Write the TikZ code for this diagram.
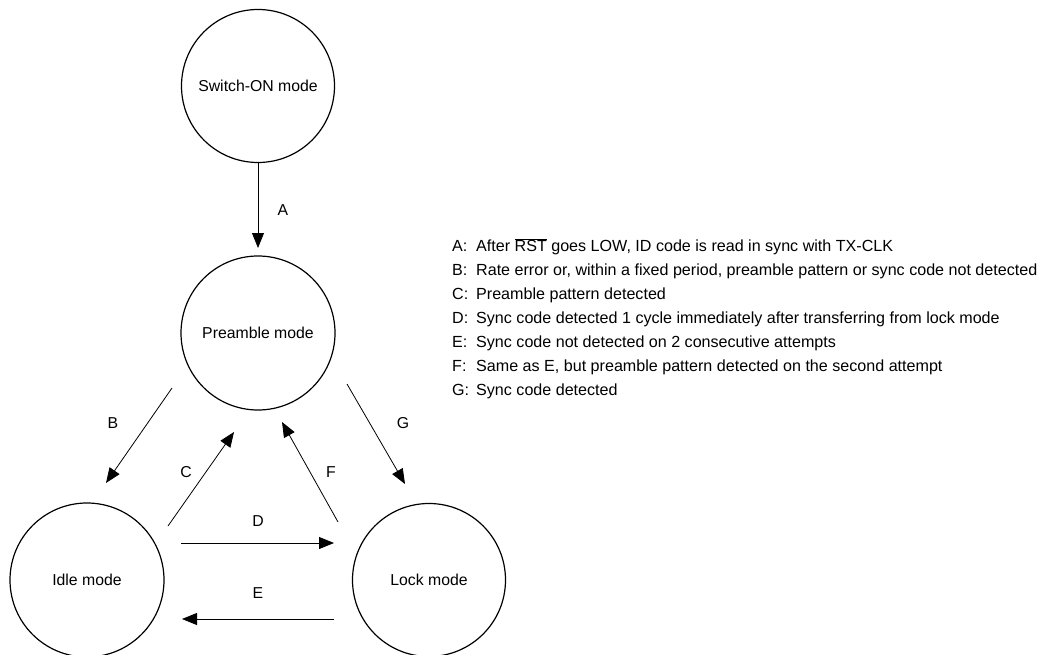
\documentclass[tikz,border=0pt]{standalone}
\usepackage{fontspec}
\setmainfont{Liberation Sans}
\usetikzlibrary{arrows.meta}
\begin{document}
\begin{tikzpicture}[x=1pt,y=-1pt,
  state/.style={circle,draw,line width=1.2pt,minimum size=153pt,inner sep=0pt,font=\fontsize{15.8}{18}\selectfont},
  trans/.style={line width=0.8pt,-{Triangle[length=15pt,width=12pt]}},
  lbl/.style={font=\fontsize{15.8}{18}\selectfont},
  leg/.style={anchor=west,inner sep=0pt,font=\fontsize{16.1}{18}\selectfont}]
\useasboundingbox (0,0) rectangle (1041,655);
\node[state] (sw) at (258,86) {Switch-ON mode};
\node[state,minimum size=154pt] (pre) at (258,333) {Preamble mode};
\node[state,minimum size=154pt] (idle) at (87,580) {Idle mode};
\node[state] (lock) at (429,580) {Lock mode};
% transition end points
\coordinate (a1) at (258,162); \coordinate (a2) at (258,248);
\coordinate (b1) at (172,388); \coordinate (b2) at (106,483);
\coordinate (c1) at (168,526); \coordinate (c2) at (234,432);
\coordinate (d1) at (181,543); \coordinate (d2) at (334,543);
\coordinate (e1) at (334,619); \coordinate (e2) at (182,619);
\coordinate (f1) at (338,522); \coordinate (f2) at (282,422);
\coordinate (g1) at (347,384); \coordinate (g2) at (405,484);
\draw[trans] (a1) -- (a2);
\draw[trans] (b1) -- (b2);
\draw[trans] (c1) -- (c2);
\draw[trans] (d1) -- (d2);
\draw[trans] (e1) -- (e2);
\draw[trans] (f1) -- (f2);
\draw[trans] (g1) -- (g2);
\node[lbl] (la) at (283,210) {A};
\node[lbl] (lb) at (113,423) {B};
\node[lbl] (lc) at (186,472) {C};
\node[lbl] (ld) at (258,521) {D};
\node[lbl] (le) at (258,593) {E};
\node[lbl] (lf) at (331,472) {F};
\node[lbl] (lg) at (403,423) {G};
% legend
\node[leg] (ka) at (452,247) {\makebox[24pt][l]{A:}After $\overline{\hbox{RST}}$ goes LOW, ID code is read in sync with TX-CLK};
\node[leg] (kb) at (452,271) {\makebox[24pt][l]{B:}Rate error or, within a fixed period, preamble pattern or sync code not detected};
\node[leg] (kc) at (452,295) {\makebox[24pt][l]{C:}Preamble pattern detected};
\node[leg] (kd) at (452,319) {\makebox[24pt][l]{D:}Sync code detected 1 cycle immediately after transferring from lock mode};
\node[leg] (ke) at (452,343) {\makebox[24pt][l]{E:}Sync code not detected on 2 consecutive attempts};
\node[leg] (kf) at (452,367) {\makebox[24pt][l]{F:}Same as E, but preamble pattern detected on the second attempt};
\node[leg] (kg) at (452,391) {\makebox[24pt][l]{G:}Sync code detected};
\end{tikzpicture}
\end{document}
